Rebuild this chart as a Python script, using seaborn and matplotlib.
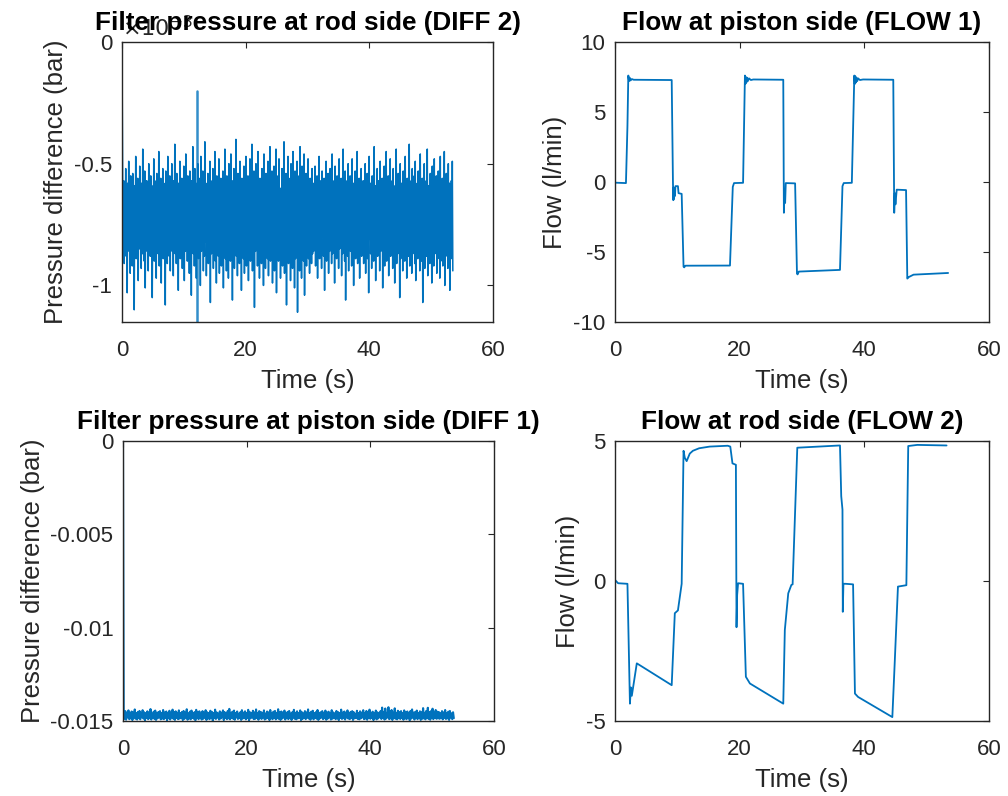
import numpy as np
import pandas as pd
import matplotlib
matplotlib.use("Agg")
import matplotlib.pyplot as plt
import seaborn as sns
from matplotlib.ticker import FuncFormatter

# ---------------- data ----------------
# Filter pressure at rod side (DIFF 2), values in units of 1e-5 bar
diff2_noise = [
    -62,-84,-57,-91,-66,-78,-52,-88,-60,-103,-58,-81,-49,-86,-63,-95,-55,-80,-68,-92,
    -54,-77,-61,-110,-59,-83,-47,-89,-65,-76,-56,-98,-62,-85,-51,-79,-67,-93,-58,-87,
    -44,-82,-60,-90,-53,-101,-64,-78,-57,-86,
    -61,-94,-50,-83,-66,-88,-55,-79,-59,-105,-63,-81,-48,-90,-57,-84,-69,-97,-54,-80,
    -62,-87,-45,-92,-60,-78,-56,-99,-65,-83,-52,-89,-58,-76,-64,-108,-53,-85,-61,-91,
    -47,-82,-67,-88,-55,-94,-59,-80,-50,-86,
    -63,-96,-57,-79,-42,-87,-60,-91,-54,-84,-66,-102,-58,-77,-49,-89,-62,-85,-56,-93,
    -64,-81,-51,-98,-59,-86,-46,-83,-61,-90,-55,-78,-68,-95,-53,-88,-60,-104,-57,-82,
    -43,-87,-63,-92,-52,-80,-65,-97,-58,-84,
    -50,-89,-62,-83,-56,-100,-47,-86,-64,-79,-53,-94,-60,-88,-41,-82,-58,-96,-66,-85,
    -54,-91,-61,-78,-49,-107,-57,-87,-63,-81,-52,-93,-59,-84,-45,-90,-65,-99,-55,-80,
    -62,-88,-48,-95,-60,-83,-56,-92,-67,-86,
    -53,-101,-58,-79,-44,-89,-61,-94,-55,-85,-64,-97,-50,-82,-59,-90,-46,-87,-63,-106,
    -57,-81,-52,-93,-60,-84,-40,-88,-66,-96,-54,-80,-62,-91,-49,-86,-58,-102,-56,-83,
    -65,-89,-51,-95,-59,-78,-47,-92,-61,-85,
    -55,-98,-63,-81,-48,-90,-57,-87,-42,-94,-60,-83,-53,-109,-64,-86,-50,-79,-58,-92,
    -45,-88,-62,-97,-56,-84,-67,-91,-52,-80,-59,-100,-46,-85,-61,-93,-54,-82,-65,-89,
    -49,-96,-57,-83,-43,-90,-60,-87,-53,-99,
    -62,-81,-51,-94,-58,-86,-44,-103,-63,-84,-55,-90,-48,-88,-60,-97,-66,-80,-52,-92,
    -57,-85,-41,-95,-61,-83,-54,-108,-59,-87,-47,-91,-64,-79,-56,-98,-50,-86,-62,-93,
    -45,-84,-58,-101,-53,-89,-65,-82,-49,-111,
    -60,-88,-55,-94,-43,-85,-62,-97,-51,-83,-58,-90,-46,-104,-63,-86,-54,-92,-59,-80,
    -48,-89,-61,-95,-56,-84,-66,-91,-52,-87,
    -58,-86,-64,-79,-51,-92,-60,-83,-55,-97,-62,-81,-47,-89,-57,-85,-66,-93,-53,-80,
    -61,-88,-56,-102,-63,-84,-49,-90,-59,-78,-54,-95,-65,-86,-52,-82,-60,-91,-46,-87,
    -62,-79,-57,-99,-51,-84,-64,-89,-55,-81,
    -60,-93,-48,-85,-63,-80,-56,-96,-59,-87,-44,-83,-62,-90,-53,-106,-66,-82,-57,-88,
    -50,-94,-61,-79,-55,-86,-64,-92,-48,-84,-58,-100,-62,-81,-53,-89,-67,-85,-45,-91,
    -59,-83,-56,-97,-61,-80,-52,-88,-63,-86,
    -57,-91,-65,-82,-50,-95,-60,-84,-54,-89,-62,-103,-47,-81,-58,-87,-64,-93,-55,-80,
    -61,-90,-43,-85,-59,-98,-66,-83,-52,-88,-57,-79,-63,-94,-49,-86,-60,-82,-56,-101,
    -64,-87,-51,-92,-58,-84,-45,-90,-62,-81,
    -55,-96,-60,-85,-48,-88,-63,-80,-57,-93,-52,-86,-65,-99,-59,-83,-44,-91,-61,-87,
    -54,-82,-62,-105,-50,-89,-58,-84,-66,-94,-53,-81,-60,-90,-47,-86,-63,-97,-56,-83,
    -59,-88,-42,-92,-61,-80,-57,-95,-52,-87,
    -62,-84,-55,-91,-49,-98,-64,-82,-58,-89,-53,-86,-60,-94,-46,-81,-63,-90,-56,-107,
    -61,-85,-50,-93,-65,-83,-57,-88,-44,-96,-59,-80,-62,-91,-54,-86,-67,-99,-51,-84,
    -58,-92,-48,-87,-63,-82,-55,-95,-60,-89,
    -53,-83,-61,-97,-47,-90,-64,-85,-56,-92,-59,-81,-45,-100,-62,-88,-54,-84,-66,-93,
    -50,-86,-58,-102,-63,-80,-57,-89,-49,-94,
]
diff2_start = 0.0            # bar, first sample at t = 0
diff2_spike_t = [12.1, 12.1]
diff2_spike_v = [-20, -115]  # units of 1e-5 bar

# Filter pressure at piston side (DIFF 1), values in units of 1e-5 bar
diff1_noise = [
    -1452,-1489,-1447,-1493,-1456,-1481,-1443,-1490,-1460,-1486,-1449,-1495,-1455,-1480,-1438,-1488,-1458,-1492,-1451,-1484,
    -1446,-1491,-1457,-1479,-1442,-1487,-1453,-1496,-1459,-1483,-1448,-1490,-1455,-1485,-1436,-1492,-1461,-1481,-1450,-1489,
    -1444,-1494,-1456,-1486,-1452,-1480,-1447,-1491,-1458,-1487,
    -1441,-1490,-1454,-1483,-1449,-1496,-1457,-1485,-1445,-1492,-1460,-1481,-1439,-1488,-1453,-1494,-1448,-1484,-1456,-1490,
    -1443,-1487,-1458,-1482,-1451,-1495,-1446,-1489,-1455,-1480,-1437,-1493,-1459,-1486,-1450,-1491,-1444,-1484,-1457,-1488,
    -1452,-1496,-1440,-1483,-1454,-1490,-1448,-1485,-1461,-1492,
    -1447,-1488,-1456,-1481,-1442,-1494,-1453,-1486,-1459,-1490,-1445,-1483,-1451,-1497,-1457,-1485,-1439,-1489,-1454,-1482,
    -1460,-1492,-1448,-1487,-1455,-1480,-1443,-1495,-1452,-1484,-1458,-1490,-1446,-1486,-1435,-1491,-1456,-1483,-1450,-1488,
    -1444,-1493,-1457,-1481,-1449,-1489,-1461,-1485,-1453,-1494,
    -1442,-1487,-1455,-1482,-1448,-1491,-1458,-1484,-1440,-1496,-1452,-1486,-1457,-1480,-1445,-1490,-1454,-1488,-1438,-1483,
    -1459,-1493,-1447,-1485,-1451,-1489,-1456,-1481,-1443,-1492,-1460,-1487,-1449,-1484,-1454,-1495,-1441,-1486,-1457,-1490,
    -1450,-1482,-1446,-1491,-1458,-1485,-1437,-1489,-1453,-1494,
    -1449,-1487,-1455,-1482,-1444,-1492,-1458,-1485,-1451,-1490,-1446,-1484,-1460,-1494,-1453,-1481,-1440,-1488,-1456,-1491,
    -1448,-1486,-1457,-1483,-1443,-1495,-1452,-1489,-1459,-1484,-1447,-1490,-1454,-1482,-1438,-1487,-1457,-1493,-1450,-1485,
    -1445,-1491,-1458,-1483,-1452,-1488,-1441,-1494,-1456,-1486,
    -1453,-1482,-1447,-1490,-1459,-1485,-1444,-1493,-1455,-1487,-1450,-1481,-1457,-1492,-1442,-1488,-1454,-1484,-1460,-1490,
    -1446,-1486,-1452,-1495,-1458,-1483,-1439,-1489,-1455,-1485,-1449,-1492,-1456,-1481,-1443,-1487,-1459,-1490,-1451,-1484,
    -1447,-1494,-1453,-1486,-1461,-1482,-1445,-1489,-1457,-1491,
    -1448,-1486,-1455,-1481,-1442,-1490,-1459,-1487,-1446,-1493,-1452,-1484,-1439,-1488,-1456,-1482,-1450,-1495,-1457,-1485,
    -1444,-1491,-1453,-1486,-1460,-1480,-1447,-1489,-1428,-1484,-1451,-1492,-1433,-1487,-1456,-1481,-1426,-1490,-1449,-1486,
    -1441,-1494,-1455,-1483,-1432,-1488,-1458,-1491,-1445,-1485,
    -1452,-1489,-1447,-1482,-1457,-1493,-1443,-1486,-1454,-1490,-1449,-1484,-1459,-1496,-1446,-1487,-1438,-1481,-1455,-1492,
    -1451,-1485,-1444,-1490,-1458,-1483,-1448,-1494,-1453,-1488,-1431,-1486,-1456,-1491,-1446,-1484,-1429,-1489,-1452,-1493,
    -1447,-1485,-1434,-1490,-1455,-1483,-1441,-1488,-1450,-1486,
    -1452,-1488,-1458,-1485,-1447,-1491,-1454,-1483,-1441,-1489,-1457,-1486,-1450,-1494,-1446,-1482,-1459,-1490,-1453,-1485,
]
diff1_start = 0.0  # bar at t = 0

# Flow at piston side (FLOW 1): breakpoints (time s, flow l/min)
flow1_t = [0, 1.76, 2.0, 2.14, 2.25, 2.35, 2.5, 2.7, 3.0, 9.1, 9.3, 9.36, 9.42, 9.48, 9.55,
           9.62, 9.7, 10.1, 10.2, 10.7, 11.0, 11.1, 11.3, 18.45, 18.9, 19.1, 20.55, 20.85,
           20.92, 21.0, 21.08, 21.18, 21.3, 21.5, 21.8, 22.2, 27.0, 27.1, 27.2, 27.3, 27.4,
           28.9, 29.2, 29.3, 29.5, 36.1, 36.5, 36.7, 38.0, 38.4, 38.48, 38.56, 38.64, 38.74,
           38.86, 39.0, 39.3, 39.8, 44.65, 44.8, 44.9, 45.0, 45.2, 46.7, 46.9, 47.1, 47.9, 53.45]
flow1_v = [-0.05, -0.08, 4.0, 7.6, 7.2, 7.45, 7.25, 7.35, 7.3, 7.28, 0.0, -1.3, -0.4, -1.2, -0.5,
           -1.0, -0.3, -0.3, -0.8, -0.85, -6.05, -6.1, -5.98, -5.97, -0.35, -0.08, -0.06, 7.6,
           7.0, 7.5, 7.1, 7.45, 7.2, 7.4, 7.28, 7.32, 7.3, -2.2, -0.6, -1.5, -0.08,
           -0.1, -6.55, -6.6, -6.4, -6.28, -0.3, -0.08, -0.06, 7.6, 7.0, 7.55, 7.1, 7.45,
           7.2, 7.4, 7.28, 7.32, 7.3, -2.2, -0.8, -1.6, -0.55, -0.58, -6.9, -6.8, -6.62, -6.5]

# Flow at rod side (FLOW 2): breakpoints (time s, flow l/min)
flow2_t = [0, 0.5, 2.0, 2.4, 2.55, 2.7, 3.5, 9.1, 9.6, 10.1, 10.7, 11.0, 11.2, 11.5, 12.0,
           12.5, 13.5, 15.2, 18.1, 18.5, 18.85, 19.4, 19.5, 19.6, 19.75, 20.55, 21.0, 21.65,
           27.0, 27.25, 27.8, 28.3, 28.5, 29.25, 36.1, 36.3, 36.5, 36.55, 36.65, 37.0, 38.2,
           38.5, 39.0, 44.5, 44.9, 45.4, 46.75, 47.05, 48.5, 53.2]
flow2_v = [0.04, -0.08, -0.1, -4.38, -3.8, -4.1, -2.94, -3.72, -1.15, -1.05, -0.1, 4.65, 4.4,
           4.28, 4.55, 4.65, 4.74, 4.8, 4.83, 4.8, 4.2, 4.15, -1.65, -0.5, -0.08, -0.1, -3.42,
           -3.66, -4.38, -1.75, -0.44, -0.14, -0.12, 4.76, 4.84, 3.03, 2.55, -1.1, -0.1, -0.1,
           -0.12, -4.02, -4.14, -4.86, -2.82, -0.2, -0.15, 4.82, 4.86, 4.84]

noise_t_start = 0.12
noise_t_end = 53.5

titles = ["Filter pressure at rod side (DIFF 2)", "Flow at piston side (FLOW 1)",
          "Filter pressure at piston side (DIFF 1)", "Flow at rod side (FLOW 2)"]
xlabel = "Time (s)"
ylabel_p = "Pressure difference (bar)"
ylabel_f = "Flow (l/min)"

# ---------------- style ----------------
sns.set_style("white")
plt.rcParams["font.family"] = ["Liberation Sans", "DejaVu Sans"]
plt.rcParams["axes.unicode_minus"] = False

LINE = "#0072BD"
AX = "#262626"
FS_TICK = 16
FS_LABEL = 18.5
FS_TITLE = 18.8

fig = plt.figure(figsize=(10.08, 7.96), dpi=100)
pos = {
    "tl": [0.1210, 0.5955, 0.3681, 0.3518],
    "tr": [0.6101, 0.5955, 0.3710, 0.3518],
    "bl": [0.1220, 0.0942, 0.3681, 0.3518],
    "br": [0.6101, 0.0942, 0.3710, 0.3518],
}
axes = {k: fig.add_axes(v) for k, v in pos.items()}


def style(ax, title, ylabel):
    for s in ax.spines.values():
        s.set_color(AX)
        s.set_linewidth(1.0)
        s.set_visible(True)
    ax.tick_params(direction="in", length=4, width=0.8, colors=AX, labelsize=FS_TICK,
                   top=True, right=True, labelcolor=AX)
    ax.tick_params(axis="x", pad=13)
    ax.tick_params(axis="y", pad=7)
    ax.set_xlim(0, 60)
    ax.set_xticks([0, 20, 40, 60])
    ax.set_xlabel(xlabel, fontsize=FS_LABEL, color=AX, labelpad=6)
    ax.set_ylabel(ylabel, fontsize=FS_LABEL, color=AX, labelpad=4)
    ax.set_title(title, fontsize=FS_TITLE, fontweight="bold", color="black", pad=8.5)
    ax.grid(False)


fmt = FuncFormatter(lambda v, p: "%g" % round(v, 6))

# --- top-left: DIFF 2
ax = axes["tl"]
n2 = len(diff2_noise)
t2 = np.linspace(noise_t_start, noise_t_end, n2)
df2 = pd.DataFrame({"t": np.concatenate([[0.0], t2]),
                    "p": np.concatenate([[diff2_start], np.array(diff2_noise) * 1e-5])})
sns.lineplot(data=df2, x="t", y="p", ax=ax, color=LINE, linewidth=1.1, estimator=None, sort=False)
sns.lineplot(x=diff2_spike_t, y=np.array(diff2_spike_v) * 1e-5, ax=ax, color=LINE,
             linewidth=1.8, alpha=0.8, estimator=None, sort=False)
ax.set_ylim(-1.15e-3, 0)
ax.set_yticks([-1e-3, -0.5e-3, 0])
ax.yaxis.set_major_formatter(FuncFormatter(lambda v, p: "%g" % round(v * 1e3, 4)))
style(ax, titles[0], ylabel_p)
ax.text(0.0, 1.002, r"$\times10^{-3}$", transform=ax.transAxes, ha="left", va="bottom",
        fontsize=FS_TICK, color=AX, zorder=0)

# --- top-right: FLOW 1
ax = axes["tr"]
sns.lineplot(x=flow1_t, y=flow1_v, ax=ax, color=LINE, linewidth=1.3, estimator=None, sort=False)
ax.set_ylim(-10, 10)
ax.set_yticks([-10, -5, 0, 5, 10])
ax.yaxis.set_major_formatter(fmt)
style(ax, titles[1], ylabel_f)

# --- bottom-left: DIFF 1
ax = axes["bl"]
n1 = len(diff1_noise)
t1 = np.linspace(noise_t_start, noise_t_end, n1)
df1 = pd.DataFrame({"t": np.concatenate([[0.0], t1]),
                    "p": np.concatenate([[diff1_start], np.array(diff1_noise) * 1e-5])})
sns.lineplot(data=df1, x="t", y="p", ax=ax, color=LINE, linewidth=1.5, estimator=None, sort=False)
ax.set_ylim(-0.015, 0)
ax.set_yticks([-0.015, -0.01, -0.005, 0])
ax.yaxis.set_major_formatter(fmt)
style(ax, titles[2], ylabel_p)

# --- bottom-right: FLOW 2
ax = axes["br"]
sns.lineplot(x=flow2_t, y=flow2_v, ax=ax, color=LINE, linewidth=1.3, estimator=None, sort=False)
ax.set_ylim(-5, 5)
ax.set_yticks([-5, 0, 5])
ax.yaxis.set_major_formatter(fmt)
style(ax, titles[3], ylabel_f)

fig.savefig("out.png", dpi=100, facecolor="white")
